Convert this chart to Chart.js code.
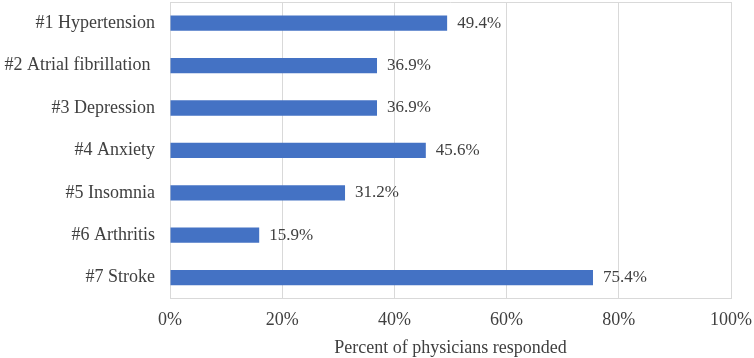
<!DOCTYPE html>
<html>
<head>
<meta charset="utf-8">
<script src="https://cdn.jsdelivr.net/npm/chart.js@4.4.1/dist/chart.umd.min.js"></script>
<style>
    html, body { margin: 0; padding: 0; background: #fff; }
    #wrap { width: 754px; height: 358px; }
</style>
</head>
<body>
<div id="wrap"><canvas id="grafico"></canvas></div>
<script>
// dados
var categorias = ['#1 Hypertension', '#2 Atrial fibrillation ', '#3 Depression', '#4 Anxiety', '#5 Insomnia', '#6 Arthritis', '#7 Stroke'];
var percentuais = [49.4, 36.9, 36.9, 45.6, 31.2, 15.9, 75.4];
var ticksX = [0, 20, 40, 60, 80, 100];

var corTexto = '#404040';
var corGrade = '#d9d9d9';
var fonte = "'Liberation Serif', 'Times New Roman', serif";

// rotulos de valor ao lado das barras + borda superior da area
var rotulosBarras = {
    id: 'rotulosBarras',
    afterDatasetsDraw: function (chart) {
        var ctx = chart.ctx;
        var area = chart.chartArea;
        var meta = chart.getDatasetMeta(0);
        ctx.save();
        ctx.strokeStyle = corGrade;
        ctx.lineWidth = 1;
        ctx.beginPath();
        ctx.moveTo(area.left, area.top + 0.5);
        ctx.lineTo(area.right, area.top + 0.5);
        ctx.stroke();

        ctx.font = '17px ' + fonte;
        ctx.fillStyle = corTexto;
        ctx.textAlign = 'left';
        ctx.textBaseline = 'middle';
        meta.data.forEach(function (barra, i) {
            ctx.fillText(percentuais[i].toFixed(1) + '%', barra.x + 10, barra.y);
        });
        ctx.restore();
    }
};

const config = {
    type: 'bar',
    data: {
        labels: categorias,
        datasets: [{
            label: 'Percent',
            data: percentuais,
            backgroundColor: '#4472C4',
            barPercentage: 0.36,
            categoryPercentage: 1.0
        }]
    },
    options: {
        indexAxis: 'y',
        responsive: true,
        maintainAspectRatio: false,
        animation: false,
        layout: { padding: { top: 2, right: 23, bottom: -1, left: 0 } },
        plugins: {
            legend: { display: false },
            tooltip: { enabled: false }
        },
        scales: {
            x: {
                min: 0,
                max: 100,
                afterBuildTicks: function (scale) {
                    scale.ticks = ticksX.map(function (v) { return { value: v }; });
                },
                afterFit: function (scale) {
                    scale.paddingLeft = 0;
                    scale.paddingRight = 0;
                },
                ticks: {
                    color: corTexto,
                    font: { family: fonte, size: 18 },
                    padding: 11,
                    callback: function (v) { return v + '%'; }
                },
                grid: { color: corGrade, drawTicks: false, lineWidth: 1 },
                border: { display: true, color: corGrade },
                title: {
                    display: true,
                    text: 'Percent of physicians responded',
                    color: corTexto,
                    font: { family: fonte, size: 18 },
                    padding: { top: -5, bottom: 0 }
                }
            },
            y: {
                afterFit: function (scale) {
                    scale.width = 170;
                    scale.paddingTop = 0;
                    scale.paddingBottom = 0;
                },
                ticks: {
                    color: corTexto,
                    font: { family: fonte, size: 18 },
                    padding: 15
                },
                grid: { display: false, drawTicks: false },
                border: { display: true, color: corGrade }
            }
        }
    },
    plugins: [rotulosBarras]
};

let meuGrafico = new Chart(document.getElementById('grafico'), config);
</script>
</body>
</html>
